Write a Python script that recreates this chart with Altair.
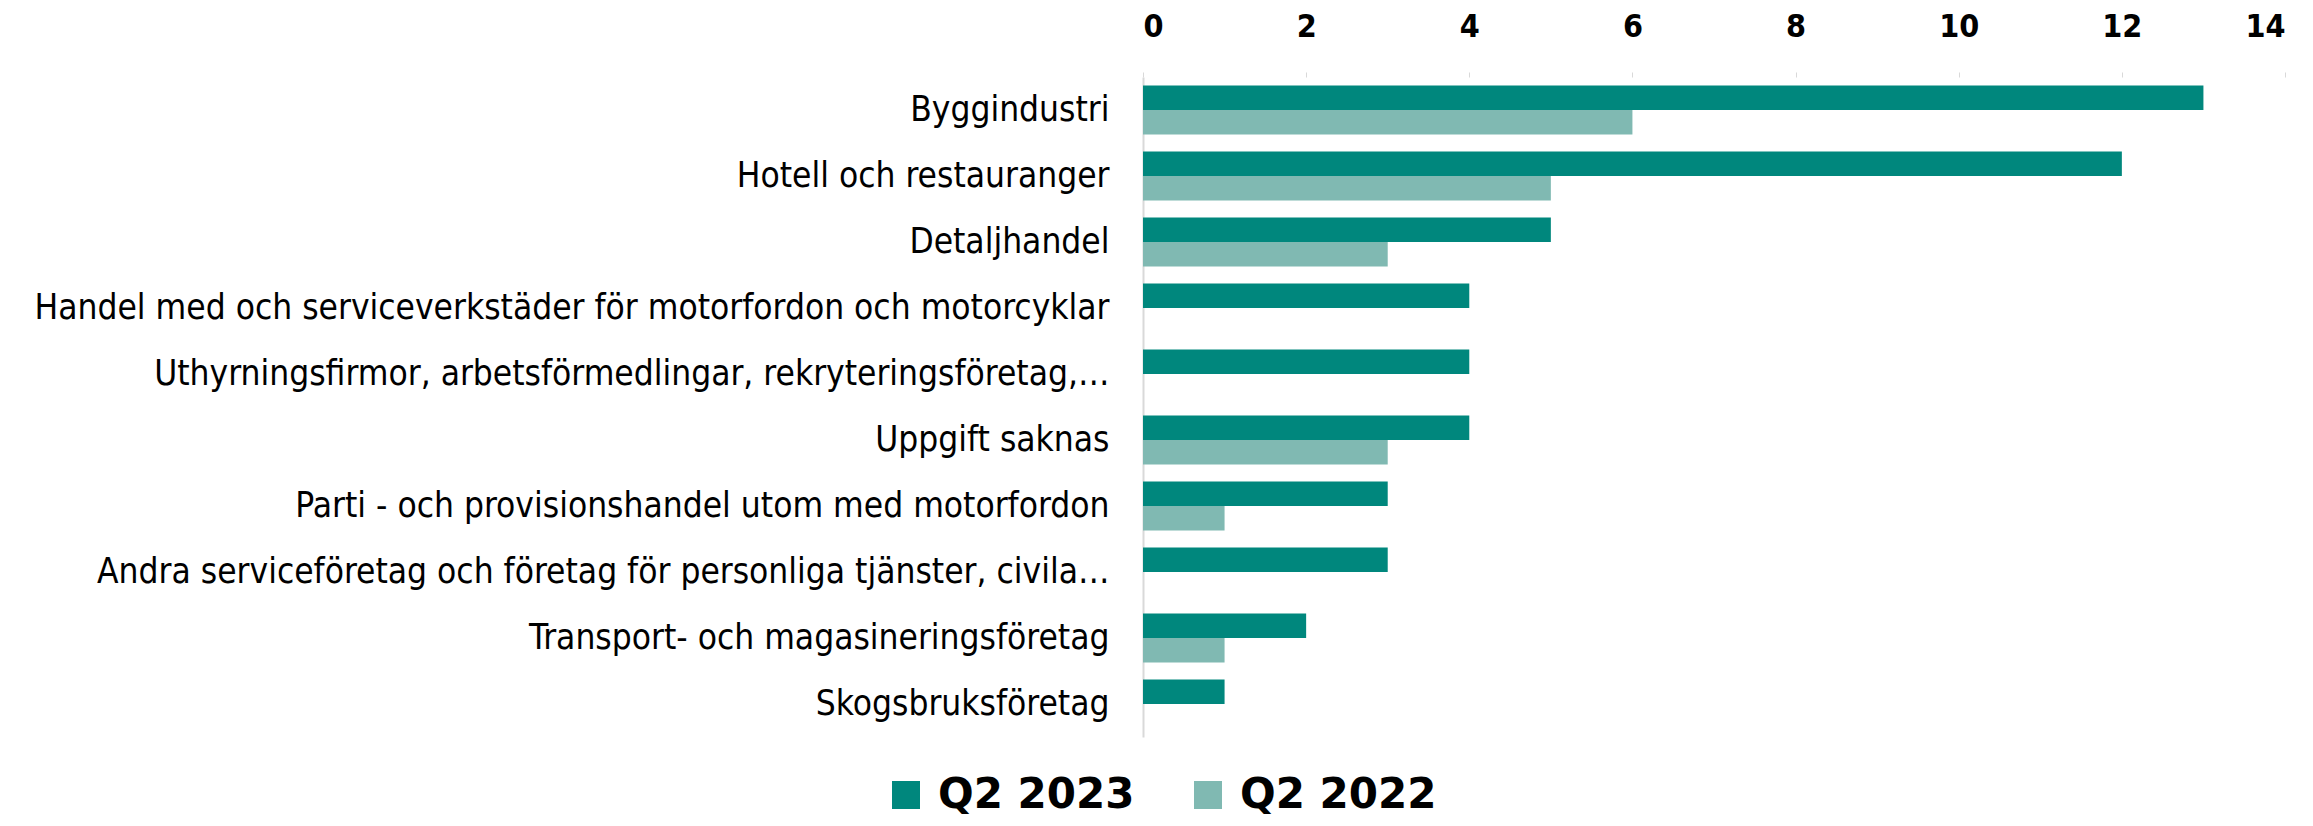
import altair as alt
import pandas as pd

categories = [
    "Byggindustri",
    "Hotell och restauranger",
    "Detaljhandel\u00a0",
    "Handel med och serviceverkstäder för motorfordon och motorcyklar",
    "Uthyrningsfirmor, arbetsförmedlingar, rekryteringsföretag,…",
    "Uppgift saknas",
    "Parti - och provisionshandel utom med motorfordon",
    "Andra serviceföretag och företag för personliga tjänster, civila…",
    "Transport- och magasineringsföretag",
    "Skogsbruksföretag",
]
series = ["Q2 2023", "Q2 2022"]
values_2023 = [13, 12, 5, 4, 4, 4, 3, 3, 2, 1]
values_2022 = [6, 5, 3, 0, 0, 3, 1, 0, 1, 0]
colors = ["#00877D", "#80B9B2"]
x_ticks = [0, 2, 4, 6, 8, 10, 12, 14]

rows = []
for c, a, b in zip(categories, values_2023, values_2022):
    rows.append({"Bransch": c, "Serie": series[0], "Antal": a})
    rows.append({"Bransch": c, "Serie": series[1], "Antal": b})
df = pd.DataFrame(rows)

label_font = "DejaVu Sans Condensed, sans-serif"
bold_font = "DejaVu Sans, sans-serif"

chart = (
    alt.Chart(df)
    .mark_bar()
    .encode(
        y=alt.Y(
            "Bransch:N",
            sort=categories,
            title=None,
            scale=alt.Scale(paddingInner=0.26, paddingOuter=0.13),
            axis=alt.Axis(
                labelFont=label_font,
                labelFontSize=35,
                labelColor="#000000",
                labelLimit=0,
                labelPadding=34,
                ticks=False,
                domain=True,
                domainColor="#D9D9D9",
                domainWidth=2,
            ),
        ),
        yOffset=alt.YOffset("Serie:N", sort=series, scale=alt.Scale(paddingInner=0, paddingOuter=0)),
        x=alt.X(
            "Antal:Q",
            title=None,
            scale=alt.Scale(domain=[0, 14], nice=False),
            axis=alt.Axis(
                orient="top",
                values=x_ticks,
                format="d",
                grid=False,
                domain=False,
                ticks=True,
                tickColor="#D9D9D9",
                tickSize=5,
                labelFont="DejaVu Sans Condensed, sans-serif",
                labelFontWeight="bold",
                labelFontSize=32,
                labelColor="#000000",
                labelPadding=29,
            ),
        ),
        color=alt.Color(
            "Serie:N",
            sort=series,
            scale=alt.Scale(domain=series, range=colors),
            legend=alt.Legend(
                title=None,
                orient="none",
                legendX=-258,
                legendY=697,
                direction="horizontal",
                columns=2,
                symbolType="square",
                symbolSize=784,
                symbolStrokeWidth=0,
                labelFont=bold_font,
                labelFontWeight="bold",
                labelFontSize=42,
                labelColor="#000000",
                labelOffset=11,
                columnPadding=52,
                labelLimit=0,
            ),
        ),
    )
    .properties(
        width=1142,
        height=660,
        autosize=alt.AutoSizeParams(type="none"),
        padding={"left": 1135, "top": 69, "right": 20, "bottom": 81},
    )
    .configure(background="#FFFFFF", view=alt.ViewConfig(stroke="transparent", strokeWidth=0))
)

chart.save("out.html", embed_options={"renderer": "svg", "actions": False})
